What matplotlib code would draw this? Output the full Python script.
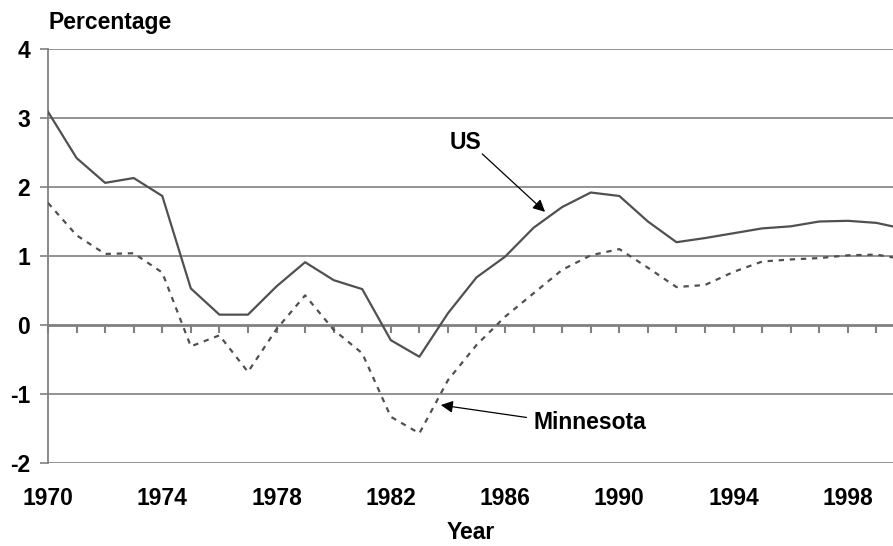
import matplotlib
matplotlib.use('Agg')
import matplotlib.pyplot as plt

#%% Data
years = list(range(1970, 2001))
us = [3.09, 2.42, 2.06, 2.13, 1.87, 0.53, 0.15, 0.15, 0.56, 0.91,
      0.65, 0.52, -0.22, -0.46, 0.17, 0.69, 0.99, 1.41, 1.71, 1.92,
      1.87, 1.50, 1.20, 1.26, 1.33, 1.40, 1.43, 1.50, 1.51, 1.48, 1.39]
minnesota = [1.77, 1.30, 1.03, 1.04, 0.76, -0.31, -0.15, -0.68, -0.06, 0.43,
             -0.07, -0.41, -1.33, -1.57, -0.80, -0.29, 0.12, 0.46, 0.80, 1.01,
             1.10, 0.83, 0.55, 0.58, 0.77, 0.92, 0.95, 0.97, 1.01, 1.02, 0.95]
year_labels = list(range(1970, 2000, 4))
y_ticks = [-2, -1, 0, 1, 2, 3, 4]

#%% Styling
plt.rcParams['font.family'] = ['Liberation Sans', 'DejaVu Sans']
plt.rcParams['font.weight'] = 'bold'
line_col = '#505050'
grid_col = '#808080'
fs = 16.5

fig = plt.figure(figsize=(8.93, 5.46), dpi=100)
ax = fig.add_axes([48 / 893, 83 / 546, 845 / 893, 414 / 546])

ax.set_xlim(1970, 1999.58)
ax.set_ylim(-2, 4)

# horizontal gridlines
for yv in y_ticks:
    if yv != 0:
        ax.axhline(yv, color=grid_col, lw=1.2, zorder=1)

ax.plot(years, us, color=line_col, lw=1.6, zorder=3)
ax.plot(years, minnesota, color=line_col, lw=1.6, ls=(0, (2.4, 2.6)), zorder=3)

# spines
for s in ['top', 'right', 'bottom']:
    ax.spines[s].set_visible(False)
ax.spines['left'].set_color(grid_col)
ax.spines['left'].set_linewidth(1.3)

ax.set_yticks(y_ticks)
ax.set_yticklabels([str(v) for v in y_ticks], fontsize=fs, fontweight='bold')
ax.tick_params(axis='y', direction='out', length=6, width=1.2, color=grid_col, pad=7)

ax.set_xticks(year_labels)
ax.set_xticklabels([str(v) for v in year_labels], fontsize=fs, fontweight='bold')
ax.tick_params(axis='x', length=0, pad=17)

# zero line with yearly tick marks
sec = ax.secondary_xaxis(1 / 3)
sec.set_xticks(years)
sec.tick_params(axis='x', direction='out', length=6, width=1.5, color=grid_col, labelbottom=False)
sec.spines['bottom'].set_color(grid_col)
sec.spines['bottom'].set_linewidth(2)

ax.set_xlabel('Year', fontsize=fs, fontweight='bold', labelpad=8)
ax.text(0, 1.065, 'Percentage', transform=ax.transAxes, fontsize=fs,
        fontweight='bold', ha='left', va='center')

arrow = dict(arrowstyle='-|>', color='black', lw=0.9, mutation_scale=18,
             shrinkA=0, shrinkB=0)
ax.text(1984.63, 2.65, 'US', fontsize=fs, fontweight='bold', ha='center', va='center')
ax.annotate('', xy=(1987.4, 1.64), xytext=(1985.2, 2.48), arrowprops=arrow)
ax.text(1987.0, -1.41, 'Minnesota', fontsize=fs, fontweight='bold', ha='left', va='center')
ax.annotate('', xy=(1983.75, -1.16), xytext=(1986.75, -1.34), arrowprops=arrow)

fig.savefig('out.png', dpi=100)
